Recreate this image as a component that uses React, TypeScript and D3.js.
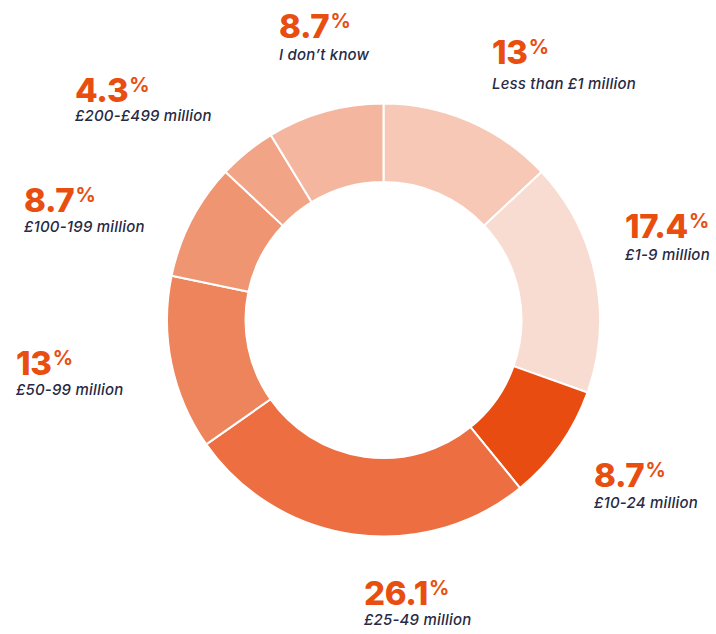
import React, { useMemo } from 'react';
import * as d3 from 'd3';

// slices, clockwise from 12 o'clock
const categories = [
  'Less than £1 million',
  '£1-9 million',
  '£10-24 million',
  '£25-49 million',
  '£50-99 million',
  '£100-199 million',
  '£200-£499 million',
  'I don\u2019t know',
];
const values = [13, 17.4, 8.7, 26.1, 13, 8.7, 4.3, 8.7];
const valueLabels = ['13', '17.4', '8.7', '26.1', '13', '8.7', '4.3', '8.7'];
const sliceColors = ['#F7C8B6', '#F9DCD1', '#E84C10', '#EC6E41', '#EE845C', '#F09571', '#F2A487', '#F4B69F'];

// where each label block sits (x = left edge, y = number baseline, gap = label baseline offset)
const labelSpots = [
  { x: 492, y: 64, gap: 25 },
  { x: 625, y: 238, gap: 22 },
  { x: 594, y: 487, gap: 21 },
  { x: 364, y: 605, gap: 20 },
  { x: 16, y: 375, gap: 20 },
  { x: 24, y: 212, gap: 20 },
  { x: 75, y: 102, gap: 19 },
  { x: 279, y: 38, gap: 22 },
];

const W = 716;
const H = 634;
const cx = 383.5;
const cy = 320;
const outerR = 216.5;
const innerR = 138;

const numColor = '#E84E0F';
const textColor = '#272A45';
const font = 'Inter, "Noto Sans", sans-serif';

function App() {
  const arcs = useMemo(() => {
    return d3.pie<number>().sort(null).value(d => d)(values);
  }, []);

  const arcGen = d3.arc<d3.PieArcDatum<number>>().innerRadius(innerR).outerRadius(outerR);

  return (
    <svg width={W} height={H} style={{ position: 'absolute', left: 0, top: 0, background: '#fff' }}>
      <g transform={`translate(${cx},${cy})`}>
        {arcs.map((a, i) => (
          <path key={i} d={arcGen(a) || ''} fill={sliceColors[i]} stroke='#fff' strokeWidth={2} />
        ))}
      </g>
      {labelSpots.map((s, i) => (
        <g key={i} fontFamily={font}>
          <text x={s.x} y={s.y} fill={numColor} fontSize={33} fontWeight={800} letterSpacing={-0.3}>
            {valueLabels[i]}
            <tspan fontSize={20} fontWeight={700} dx={1} dy={-10}>%</tspan>
          </text>
          <text x={s.x} y={s.y + s.gap} fill={textColor} fontSize={15} fontStyle='italic' fontWeight={500} letterSpacing={0.2}>
            {categories[i]}
          </text>
        </g>
      ))}
    </svg>
  );
}

export default App;
